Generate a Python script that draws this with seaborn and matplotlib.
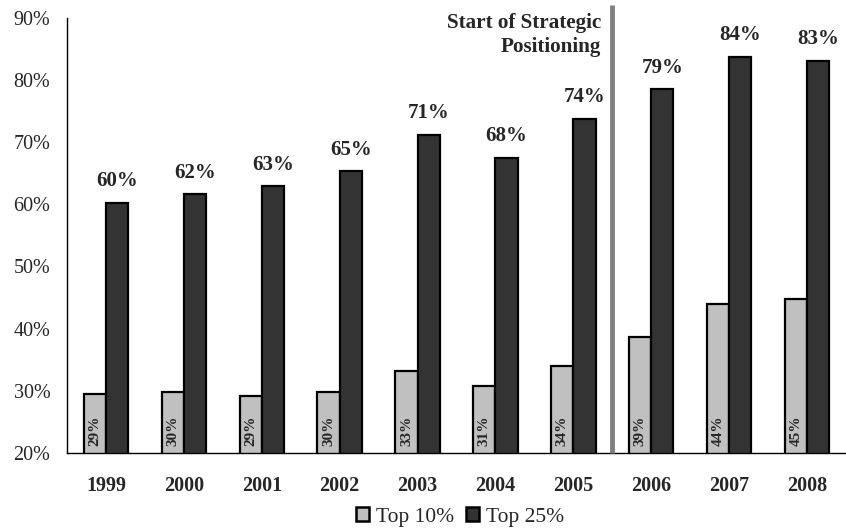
import matplotlib
matplotlib.use("Agg")
import matplotlib.pyplot as plt
import seaborn as sns
import pandas as pd
from matplotlib.patches import Patch

years = ["1999", "2000", "2001", "2002", "2003", "2004", "2005", "2006", "2007", "2008"]
top10 = [29.5, 29.8, 29.2, 29.7, 33.1, 30.8, 34.0, 38.7, 43.9, 44.8]
top25 = [60.2, 61.6, 62.9, 65.3, 71.2, 67.5, 73.7, 78.5, 83.7, 83.1]
top10_labels = ["29%", "30%", "29%", "30%", "33%", "31%", "34%", "39%", "44%", "45%"]
top25_labels = ["60%", "62%", "63%", "65%", "71%", "68%", "74%", "79%", "84%", "83%"]
series_names = ["Top 10%", "Top 25%"]
yticks = [20, 30, 40, 50, 60, 70, 80, 90]
annotation = "Start of Strategic\nPositioning"

sns.set_style("white")
plt.rcParams["font.family"] = ["Liberation Serif", "DejaVu Serif"]

df = pd.DataFrame({
    "year": years * 2,
    "value": top10 + top25,
    "series": [series_names[0]] * len(years) + [series_names[1]] * len(years),
})

colors = ["#c0c0c0", "#333333"]

fig = plt.figure(figsize=(8.46, 5.31), dpi=100)
ax = fig.add_axes([67 / 846, 1 - 452.7 / 531, 1 - 67 / 846, (452.7 - 18) / 531])

sns.barplot(data=df, x="year", y="value", hue="series", palette=colors,
            edgecolor="black", linewidth=1.6, width=0.57, ax=ax, legend=False,
            saturation=1)

ax.set_ylim(20, 90)
ax.set_xlim(-0.5, 9.4)
ax.set_yticks(yticks)
ax.set_yticklabels([f"{v}%" for v in yticks], fontsize=14.5)
ax.tick_params(axis="y", direction="out", length=6, width=1, pad=6, color="black")

ax.set_xticks([i - 0.5 for i in range(len(years) + 1)])
ax.set_xticklabels([])
ax.set_xticks(range(len(years)), minor=True)
ax.set_xticklabels(years, minor=True, fontsize=14.5, fontweight="bold")
ax.tick_params(axis="x", which="major", direction="out", length=5, width=1, color="black")
ax.tick_params(axis="x", which="minor", length=0, pad=17)

ax.set_xlabel("")
ax.set_ylabel("")
for s in ["top", "right"]:
    ax.spines[s].set_visible(False)
for s in ["left", "bottom"]:
    ax.spines[s].set_color("black")
    ax.spines[s].set_linewidth(1)

# labels
for patch, lab in zip(ax.containers[0], top10_labels):
    cx = patch.get_x() + patch.get_width() / 2
    ax.text(cx, 21.1, lab, rotation=90, ha="center", va="bottom",
            fontsize=11, fontweight="bold")
for patch, lab, v in zip(ax.containers[1], top25_labels, top25):
    cx = patch.get_x() + patch.get_width() / 2
    ax.text(cx, v + 2.7, lab, ha="center", va="baseline",
            fontsize=15, fontweight="bold")

# divider line
ax.plot([6.5, 6.5], [20, 92.1], color="#808080", linewidth=3.5, clip_on=False,
        solid_capstyle="butt", zorder=5)
ax.text(6.36, 87.3, annotation, ha="right", va="center", multialignment="right",
        fontsize=15.2, fontweight="bold", linespacing=1.3)

handles = [Patch(facecolor=c, edgecolor="black", linewidth=1.8) for c in colors]
fig.legend(handles, series_names, loc="center", bbox_to_anchor=(460 / 846, 1 - 517 / 531),
           ncol=2, frameon=False, fontsize=15.5, handlelength=0.62, handleheight=0.6,
           handletextpad=0.3, columnspacing=0.55, borderaxespad=0, borderpad=0)

fig.savefig("out.png", dpi=100)
